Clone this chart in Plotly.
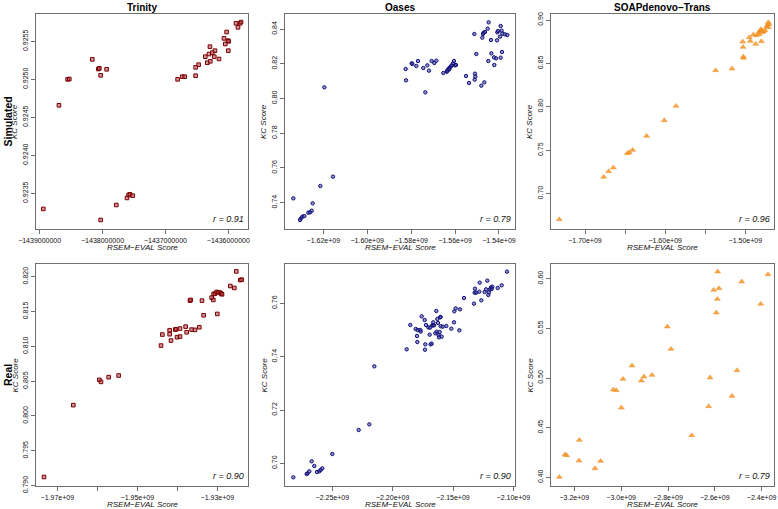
import plotly.graph_objects as go

# ---------------- data ----------------
col_titles = ["Trinity", "Oases", "SOAPdenovo\u2212Trans"]
row_titles = ["Simulated", "Real"]
r_values = ["r = 0.91", "r = 0.79", "r = 0.96", "r = 0.90", "r = 0.90", "r = 0.79"]

# Trinity / Simulated (RSEM-EVAL in raw units)
trin_sim_x = [-1438942000, -1438693000, -1438555000, -1438528000, -1438163000, -1438067000,
              -1438051000, -1438030000, -1437935000, -1438030000, -1437781000, -1437611000,
              -1437585000, -1437564000, -1437521000, -1436806000, -1436731000, -1436694000,
              -1436520000, -1436520000, -1436472000, -1436366000, -1436334000, -1436286000,
              -1436292000, -1436307000, -1436254000, -1436212000, -1436223000, -1436148000,
              -1436069000, -1436048000, -1436027000, -1436005000, -1435995000, -1436000000,
              -1435877000, -1435846000, -1435814000, -1435798000]
trin_sim_y = [0.923294, 0.924658, 0.925000, 0.925004, 0.925263, 0.925136, 0.925145, 0.925053,
              0.925132, 0.923149, 0.923346, 0.923439, 0.923478, 0.923487, 0.923469, 0.925000,
              0.925035, 0.925035, 0.925048, 0.925158, 0.925193, 0.925298, 0.925219, 0.925237,
              0.925430, 0.925333, 0.925351, 0.925377, 0.925298, 0.925268, 0.925539, 0.925465,
              0.925623, 0.925509, 0.925500, 0.925377, 0.925737, 0.925684, 0.925737, 0.925754]

# Oases / Simulated (RSEM-EVAL in 1e9 units)
oas_sim_x = [-1.63366, -1.63063, -1.63017, -1.62956, -1.62865, -1.62683, -1.62607, -1.62531,
             -1.62486, -1.62137, -1.61560, -1.61954, -1.58251, -1.58235, -1.57977, -1.57947,
             -1.57765, -1.57689, -1.57446, -1.57264, -1.57188, -1.57355, -1.57067, -1.56945,
             -1.56854, -1.56535, -1.56383, -1.56338, -1.56277, -1.56232, -1.56186, -1.56156,
             -1.56095, -1.56050, -1.56004, -1.55958, -1.56353, -1.56262, -1.55503, -1.55366,
             -1.55123, -1.55093, -1.55078, -1.55108, -1.55032, -1.54805, -1.54759, -1.54729,
             -1.54698, -1.54638, -1.54668, -1.54516, -1.54471, -1.54486, -1.54364, -1.54349,
             -1.54228, -1.54213, -1.54137, -1.54091, -1.54076, -1.54046, -1.53924, -1.53879,
             -1.53848, -1.53955, -1.53924, -1.53864, -1.53727, -1.53621]
oas_sim_y = [0.74250, 0.73002, 0.73098, 0.73194, 0.73232, 0.73424, 0.73443, 0.73539, 0.73962,
             0.74960, 0.75497, 0.80641, 0.81697, 0.81044, 0.82023, 0.81985, 0.81869, 0.82157,
             0.81754, 0.81908, 0.81601, 0.80353, 0.82157, 0.82042, 0.82177, 0.81466, 0.81543,
             0.81639, 0.81735, 0.81793, 0.81850, 0.81908, 0.82023, 0.82157, 0.81908, 0.81927,
             0.81582, 0.81678, 0.81294, 0.80891, 0.83712, 0.81428, 0.81255, 0.81083, 0.82560,
             0.80737, 0.83501, 0.83712, 0.83789, 0.83827, 0.80929, 0.84019, 0.84384, 0.82157,
             0.83367, 0.82599, 0.82368, 0.81927, 0.82311, 0.83347, 0.83808, 0.83885, 0.84173,
             0.83904, 0.83731, 0.83559, 0.82349, 0.82676, 0.83693, 0.83655]

# SOAPdenovo-Trans / Simulated (1e9 units)
soap_sim_x = [-1.73202, -1.67672, -1.67048, -1.66466, -1.64719, -1.64470, -1.64054, -1.62308,
              -1.60104, -1.58649, -1.53701, -1.51663, -1.50333, -1.50291, -1.50249, -1.50208,
              -1.49501, -1.49376, -1.49002, -1.48711, -1.48628, -1.48254, -1.48129, -1.48046,
              -1.47880, -1.48004, -1.47754, -1.47546, -1.47338, -1.47213, -1.47130, -1.47047,
              -1.47130, -1.48295, -1.47963]
soap_sim_y = [0.67044, 0.71919, 0.72572, 0.72994, 0.74645, 0.74760, 0.75029, 0.76641, 0.78445,
              0.80096, 0.84203, 0.84395, 0.87505, 0.86891, 0.85777, 0.85624, 0.88004, 0.87582,
              0.88311, 0.87236, 0.88234, 0.88656, 0.88772, 0.88925, 0.88733, 0.87543, 0.88656,
              0.88810, 0.89232, 0.89463, 0.89731, 0.89539, 0.89155, 0.88349, 0.88580]

# Trinity / Real (1e9 units)
trin_real_x = [-1.97333, -1.96600, -1.95950, -1.95908, -1.95717, -1.95467, -1.94408, -1.94375,
               -1.94192, -1.94192, -1.94158, -1.94050, -1.94033, -1.94008, -1.93933, -1.93933,
               -1.93792, -1.93767, -1.93683, -1.93667, -1.93642, -1.93558, -1.93450, -1.93383,
               -1.93342, -1.93142, -1.93100, -1.93092, -1.93058, -1.93017, -1.92975, -1.92933,
               -1.92900, -1.92883, -1.93000, -1.92675, -1.92575, -1.92525, -1.92425, -1.92392]
trin_real_y = [0.79124, 0.80156, 0.80519, 0.80490, 0.80557, 0.80581, 0.81011, 0.81169, 0.81231,
               0.81174, 0.81083, 0.81240, 0.81245, 0.81131, 0.81255, 0.81140, 0.81283, 0.81202,
               0.81656, 0.81666, 0.81240, 0.81236, 0.81274, 0.81656, 0.81446, 0.81699, 0.81666,
               0.81752, 0.81756, 0.81780, 0.81775, 0.81771, 0.81756, 0.81747, 0.81465, 0.81866,
               0.81838, 0.82076, 0.81952, 0.81957]

# Oases / Real (1e9 units)
oas_real_x = [-2.28232, -2.27127, -2.27044, -2.26906, -2.26713, -2.26492, -2.26271, -2.26077,
              -2.25967, -2.25829, -2.25000, -2.22818, -2.21934, -2.21519, -2.18840, -2.18536,
              -2.18094, -2.17928, -2.17984, -2.17956, -2.17707, -2.17680, -2.17597, -2.17348,
              -2.17293, -2.17320, -2.17238, -2.17044, -2.16934, -2.16906, -2.16851, -2.16768,
              -2.16713, -2.16657, -2.16575, -2.16630, -2.16464, -2.16354, -2.16381, -2.16298,
              -2.16243, -2.16188, -2.16160, -2.16105, -2.16077, -2.16022, -2.16022, -2.15939,
              -2.15856, -2.15552, -2.15138, -2.14917, -2.14890, -2.14779, -2.14475, -2.14420,
              -2.14088, -2.13260, -2.13204, -2.13094, -2.13177, -2.12790, -2.12818, -2.12652,
              -2.12376, -2.12265, -2.12155, -2.12072, -2.12017, -2.11934, -2.11851, -2.11796,
              -2.11740, -2.11298, -2.10967, -2.10525]
oas_real_y = [0.69475, 0.69600, 0.69625, 0.69700, 0.70075, 0.69900, 0.69675, 0.69700, 0.69750,
              0.69812, 0.70350, 0.71250, 0.71462, 0.73637, 0.74275, 0.75188, 0.75038, 0.75000,
              0.74775, 0.74550, 0.75000, 0.74938, 0.75512, 0.75375, 0.74462, 0.74262, 0.75188,
              0.75100, 0.74825, 0.75088, 0.74462, 0.74488, 0.75175, 0.75175, 0.75175, 0.75288,
              0.74875, 0.74938, 0.75712, 0.75412, 0.75262, 0.74812, 0.74725, 0.74925, 0.75475,
              0.75138, 0.75488, 0.74750, 0.75125, 0.75150, 0.75050, 0.75288, 0.75700, 0.75812,
              0.74988, 0.75775, 0.76200, 0.75988, 0.76400, 0.76400, 0.76550, 0.76775, 0.76438,
              0.76112, 0.76425, 0.76525, 0.76850, 0.76312, 0.76412, 0.76525, 0.76600, 0.76538,
              0.76625, 0.76575, 0.76675, 0.77188]

# SOAPdenovo-Trans / Real (1e9 units)
soap_real_x = [-3.26406, -3.23986, -3.23274, -3.17865, -3.18007, -3.11174, -3.08754, -3.03345,
               -3.02064, -2.99929, -2.99217, -2.95374, -2.91388, -2.90249, -2.86833, -2.80285,
               -2.78719, -2.69893, -2.62633, -2.62064, -2.60498, -2.59359, -2.58932, -2.58790,
               -2.58221, -2.52669, -2.50534, -2.48541, -2.40427, -2.37295]
soap_real_y = [0.40034, 0.42282, 0.42215, 0.43758, 0.41678, 0.40906, 0.41644, 0.48826, 0.48758,
               0.47013, 0.49899, 0.51242, 0.49732, 0.50134, 0.50302, 0.55168, 0.52919, 0.44228,
               0.47148, 0.50034, 0.58859, 0.56577, 0.57953, 0.60705, 0.59027, 0.48188, 0.50772,
               0.59698, 0.57450, 0.60436]

# tick values / labels
trin_sim_xticks = [-1439000000, -1438000000, -1437000000, -1436000000]
trin_sim_xlabels = ["\u22121439000000", "\u22121438000000", "\u22121437000000", "\u22121436000000"]
trin_sim_yticks = [0.9235, 0.9240, 0.9245, 0.9250, 0.9255]
trin_sim_ylabels = ["0.9235", "0.9240", "0.9245", "0.9250", "0.9255"]

oas_sim_xticks = [-1.62, -1.60, -1.58, -1.56, -1.54]
oas_sim_xlabels = ["\u22121.62e+09", "\u22121.60e+09", "\u22121.58e+09", "\u22121.56e+09", "\u22121.54e+09"]
oas_sim_yticks = [0.74, 0.76, 0.78, 0.80, 0.82, 0.84]
oas_sim_ylabels = ["0.74", "0.76", "0.78", "0.80", "0.82", "0.84"]

soap_sim_xticks = [-1.70, -1.65, -1.60, -1.55, -1.50]
soap_sim_xlabels = ["\u22121.70e+09", "", "\u22121.60e+09", "", "\u22121.50e+09"]
soap_sim_yticks = [0.70, 0.75, 0.80, 0.85, 0.90]
soap_sim_ylabels = ["0.70", "0.75", "0.80", "0.85", "0.90"]

trin_real_xticks = [-1.97, -1.96, -1.95, -1.94, -1.93]
trin_real_xlabels = ["\u22121.97e+09", "", "\u22121.95e+09", "", "\u22121.93e+09"]
trin_real_yticks = [0.790, 0.795, 0.800, 0.805, 0.810, 0.815, 0.820]
trin_real_ylabels = ["0.790", "0.795", "0.800", "0.805", "0.810", "0.815", "0.820"]

oas_real_xticks = [-2.25, -2.20, -2.15, -2.10]
oas_real_xlabels = ["\u22122.25e+09", "\u22122.20e+09", "\u22122.15e+09", "\u22122.10e+09"]
oas_real_yticks = [0.70, 0.72, 0.74, 0.76]
oas_real_ylabels = ["0.70", "0.72", "0.74", "0.76"]

soap_real_xticks = [-3.2, -3.0, -2.8, -2.6, -2.4]
soap_real_xlabels = ["\u22123.2e+09", "\u22123.0e+09", "\u22122.8e+09", "\u22122.6e+09", "\u22122.4e+09"]
soap_real_yticks = [0.40, 0.45, 0.50, 0.55, 0.60]
soap_real_ylabels = ["0.40", "0.45", "0.50", "0.55", "0.60"]

# ---------------- layout geometry ----------------
W, H = 778, 509
col_px = [(36, 248), (285, 515), (551, 774)]
row_px = [(14, 229), (264, 486)]

panels = [
    dict(x=trin_sim_x, y=trin_sim_y, xt=trin_sim_xticks, xl=trin_sim_xlabels, yt=trin_sim_yticks,
         yl=trin_sim_ylabels, xr=[-1439058000, -1435687000], yr=[0.92303, 0.92586], kind=0),
    dict(x=oas_sim_x, y=oas_sim_y, xt=oas_sim_xticks, xl=oas_sim_xlabels, yt=oas_sim_yticks,
         yl=oas_sim_ylabels, xr=[-1.63746, -1.53271], yr=[0.72484, 0.84864], kind=1),
    dict(x=soap_sim_x, y=soap_sim_y, xt=soap_sim_xticks, xl=soap_sim_xlabels, yt=soap_sim_yticks,
         yl=soap_sim_ylabels, xr=[-1.74241, -1.46424], yr=[0.65931, 0.90691], kind=2),
    dict(x=trin_real_x, y=trin_real_y, xt=trin_real_xticks, xl=trin_real_xlabels, yt=trin_real_yticks,
         yl=trin_real_ylabels, xr=[-1.97533, -1.92233], yr=[0.78995, 0.82182], kind=0),
    dict(x=oas_real_x, y=oas_real_y, xt=oas_real_xticks, xl=oas_real_xlabels, yt=oas_real_yticks,
         yl=oas_real_ylabels, xr=[-2.28922, -2.09862], yr=[0.6915, 0.77475], kind=1),
    dict(x=soap_real_x, y=soap_real_y, xt=soap_real_xticks, xl=soap_real_xlabels, yt=soap_real_yticks,
         yl=soap_real_ylabels, xr=[-3.29964, -2.34734], yr=[0.39128, 0.61477], kind=2),
]

markers = [
    dict(symbol="square", size=3.6, color="rgba(170,60,70,0.55)",
         line=dict(color="rgba(125,0,0,1)", width=1)),
    dict(symbol="circle", size=3.4, color="rgba(60,60,160,0.55)",
         line=dict(color="rgba(15,15,120,1)", width=1)),
    dict(symbol="triangle-up", size=5.2, color="rgba(245,150,40,0.85)",
         line=dict(color="rgba(240,140,30,0.9)", width=0.5)),
]

FONT = "Liberation Sans, Arial, Helvetica, sans-serif"
fig = go.Figure()
annotations = []

for i, p in enumerate(panels):
    r, c = divmod(i, 3)
    n = i + 1
    xa = "xaxis" if n == 1 else f"xaxis{n}"
    ya = "yaxis" if n == 1 else f"yaxis{n}"
    xref = "x" if n == 1 else f"x{n}"
    yref = "y" if n == 1 else f"y{n}"
    x0, x1 = col_px[c]
    y0, y1 = row_px[r]
    fig.add_trace(go.Scatter(x=p["x"], y=p["y"], mode="markers", marker=markers[p["kind"]],
                             xaxis=xref, yaxis=yref, showlegend=False, hoverinfo="x+y"))
    common = dict(showline=True, mirror=True, linecolor="#6e6e6e", linewidth=1.2,
                  ticks="outside", ticklen=4, tickcolor="#6e6e6e", tickwidth=1,
                  showgrid=False, zeroline=False, automargin=False,
                  tickfont=dict(family=FONT, size=7, color="#111"))
    fig.update_layout({
        xa: dict(domain=[x0 / W, x1 / W], range=p["xr"], tickmode="array",
                 tickvals=p["xt"], ticktext=p["xl"], anchor=yref, **common),
        ya: dict(domain=[1 - y1 / H, 1 - y0 / H], range=p["yr"], tickmode="array",
                 tickvals=p["yt"], ticktext=p["yl"], tickangle=-90, anchor=xref, **common),
    })
    # r annotation
    annotations.append(dict(text=f"<i>{r_values[i]}</i>", xref=f"{xref} domain", yref=f"{yref} domain",
                            x=0.99, y=0.015, xanchor="right", yanchor="bottom", showarrow=False,
                            font=dict(family=FONT, size=9, color="#111")))
    # x axis title
    annotations.append(dict(text="<i>RSEM\u2212EVAL Score</i>", xref="paper", yref="paper",
                            x=(x0 + x1) / 2 / W, y=1 - (y1 + 18) / H, xanchor="center", yanchor="middle",
                            showarrow=False, font=dict(family=FONT, size=8, color="#111")))
    # y axis title
    annotations.append(dict(text="<i>KC Score</i>", xref="paper", yref="paper",
                            x=(x0 - 21.5) / W, y=1 - (y0 + y1) / 2 / H, xanchor="center", yanchor="middle",
                            textangle=-90, showarrow=False, font=dict(family=FONT, size=8, color="#111")))

for c, t in enumerate(col_titles):
    x0, x1 = col_px[c]
    annotations.append(dict(text=f"<b>{t}</b>", xref="paper", yref="paper", x=(x0 + x1) / 2 / W,
                            y=1 - 7 / H, xanchor="center", yanchor="middle", showarrow=False,
                            font=dict(family=FONT, size=10, color="#000")))
for r, t in enumerate(row_titles):
    y0, y1 = row_px[r]
    annotations.append(dict(text=f"<b>{t}</b>", xref="paper", yref="paper", x=0,
                            y=1 - (y0 + y1) / 2 / H, xanchor="left", yanchor="middle", textangle=-90,
                            showarrow=False, font=dict(family=FONT, size=10.5, color="#000")))

fig.update_layout(width=W, height=H, margin=dict(l=0, r=0, t=0, b=0, autoexpand=False),
                  paper_bgcolor="white", plot_bgcolor="white", annotations=annotations,
                  font=dict(family=FONT))
fig.write_html("out.html", config={"displayModeBar": False},
               post_script="document.body.style.margin='0px';document.body.style.overflow='hidden';")
